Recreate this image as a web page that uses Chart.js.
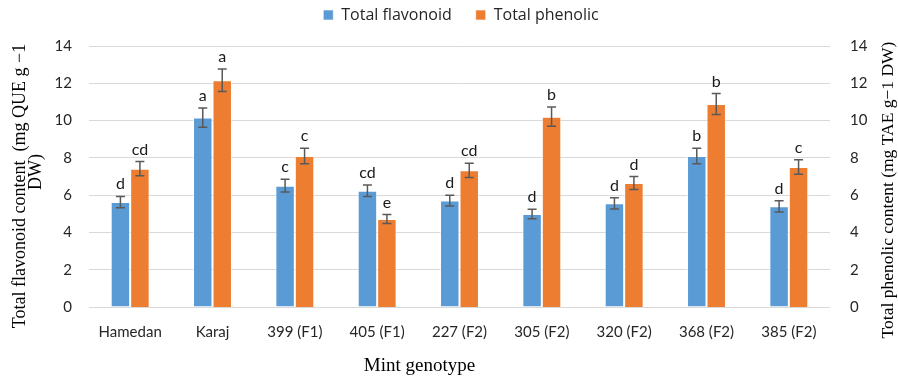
<!DOCTYPE html>
<html>
<head>
<meta charset="utf-8">
<script src="https://cdn.jsdelivr.net/npm/chart.js@4.4.0/dist/chart.umd.min.js"></script>
<style>
  html, body { margin: 0; padding: 0; background: #fff; }
</style>
</head>
<body>
<canvas id="chart" width="898" height="381"></canvas>
<script>
// ==============================
// data
// ==============================
const genotypes = ["Hamedan", "Karaj", "399 (F1)", "405 (F1)", "227 (F2)", "305 (F2)", "320 (F2)", "368 (F2)", "385 (F2)"];

const flavonoid = [5.63, 10.16, 6.51, 6.24, 5.71, 4.99, 5.56, 8.10, 5.40];
const flavonoidErr = [0.30, 0.52, 0.34, 0.31, 0.29, 0.26, 0.30, 0.42, 0.30];
const flavonoidLetters = ["d", "a", "c", "cd", "d", "d", "d", "b", "d"];

const phenolic = [7.42, 12.16, 8.10, 4.72, 7.33, 10.21, 6.65, 10.89, 7.51];
const phenolicErr = [0.38, 0.60, 0.41, 0.24, 0.38, 0.52, 0.35, 0.56, 0.39];
const phenolicLetters = ["cd", "a", "c", "e", "cd", "b", "d", "b", "c"];

const yMin = 0;
const yMax = 14;
const yStep = 2;

const leftTitle = ["Total flavonoid content  (mg QUE g \u22121", "DW)"];
const rightTitle = "Total phenolic content (mg TAE g\u22121 DW)";
const xTitleText = "Mint genotype";

const BLUE = "#5B9BD5";
const ORANGE = "#ED7D31";
const SANS = "Lato, 'Open Sans', sans-serif";
const SERIF = "'Liberation Serif', 'DejaVu Serif', serif";

// ==============================
// error bars + letters
// ==============================
const errorBars = {
    id: "errorBars",
    afterDatasetsDraw(chart) {
        const ctx = chart.ctx;
        chart.data.datasets.forEach((ds, i) => {
            const meta = chart.getDatasetMeta(i);
            const scale = chart.scales[meta.yAxisID];
            meta.data.forEach((bar, j) => {
                const v = ds.data[j];
                const e = ds.errors[j];
                const top = scale.getPixelForValue(v + e);
                const bottom = scale.getPixelForValue(v - e);
                ctx.save();
                ctx.strokeStyle = "#595959";
                ctx.lineWidth = 1.5;
                ctx.beginPath();
                ctx.moveTo(bar.x, top);
                ctx.lineTo(bar.x, bottom);
                ctx.moveTo(bar.x - 4.5, top);
                ctx.lineTo(bar.x + 4.5, top);
                ctx.moveTo(bar.x - 4.5, bottom);
                ctx.lineTo(bar.x + 4.5, bottom);
                ctx.stroke();
                ctx.fillStyle = "#1a1a1a";
                ctx.font = "16px " + SANS;
                ctx.textAlign = "center";
                ctx.textBaseline = "alphabetic";
                ctx.fillText(ds.letters[j], bar.x, top - 7);
                ctx.restore();
            });
        });
    }
};

// axis titles drawn by hand: both y titles read bottom-to-top like the original
const axisTitles = {
    id: "axisTitles",
    afterDraw(chart) {
        const ctx = chart.ctx;
        const a = chart.chartArea;
        ctx.save();
        ctx.fillStyle = "#000";
        ctx.textAlign = "center";
        ctx.textBaseline = "middle";

        ctx.font = "19px " + SERIF;
        ctx.fillText(xTitleText, (a.left + a.right) / 2 - 40, 366);

        ctx.font = "18px " + SERIF;
        ctx.save();
        ctx.translate(20, 186);
        ctx.rotate(-Math.PI / 2);
        ctx.fillText(leftTitle[0], 0, 0);
        ctx.restore();
        ctx.save();
        ctx.translate(36, 172);
        ctx.rotate(-Math.PI / 2);
        ctx.fillText(leftTitle[1], 0, 0);
        ctx.restore();

        ctx.font = "17.5px " + SERIF;
        ctx.translate(888, 190);
        ctx.rotate(-Math.PI / 2);
        ctx.fillText(rightTitle, 0, 0);
        ctx.restore();
    }
};

// fix the legend box height so the plot starts where the original does,
// and nudge the legend a little right of the canvas centre
const legendGap = {
    id: "legendGap",
    afterInit(chart) {
        const lg = chart.legend;
        const fit = lg.fit;
        lg.fit = function () {
            fit.call(this);
            this.height = 63;
        };
    },
    afterLayout(chart) {
        chart.legend.left += 24;
    }
};

// ==============================
// chart
// ==============================
new Chart(document.getElementById("chart"), {
    type: "bar",
    data: {
        labels: genotypes,
        datasets: [
            {
                label: "Total flavonoid",
                data: flavonoid,
                errors: flavonoidErr,
                letters: flavonoidLetters,
                backgroundColor: BLUE,
                borderColor: "rgba(255,255,255,0.6)",
                borderWidth: 1,
                yAxisID: "y"
            },
            {
                label: "Total phenolic",
                data: phenolic,
                errors: phenolicErr,
                letters: phenolicLetters,
                backgroundColor: ORANGE,
                borderColor: "rgba(255,255,255,0.6)",
                borderWidth: 1,
                yAxisID: "y1"
            }
        ]
    },
    options: {
        responsive: false,
        animation: false,
        categoryPercentage: 0.473,
        barPercentage: 1,
        layout: { padding: { top: -17, right: 0, bottom: 0, left: 0 } },
        plugins: {
            legend: {
                position: "top",
                labels: {
                    boxWidth: 10,
                    boxHeight: 10,
                    padding: 24,
                    color: "#262626",
                    font: { family: "'Open Sans', sans-serif", size: 16 }
                }
            },
            tooltip: { enabled: false }
        },
        scales: {
            x: {
                grid: { display: false },
                border: { display: false },
                ticks: { color: "#262626", font: { family: SANS, size: 15 }, padding: 8, maxRotation: 0 },
                afterFit(scale) { scale.height = 74; }
            },
            y: {
                position: "left",
                min: yMin,
                max: yMax,
                grid: { color: "#d9d9d9", lineWidth: 1, drawTicks: false },
                border: { display: false },
                ticks: { stepSize: yStep, color: "#262626", font: { family: SANS, size: 15 }, padding: 17 },
                afterFit(scale) { scale.width = 89; }
            },
            y1: {
                position: "right",
                min: yMin,
                max: yMax,
                grid: { display: false, drawTicks: false },
                border: { display: false },
                ticks: { stepSize: yStep, color: "#262626", font: { family: SANS, size: 15 }, padding: 20 },
                afterFit(scale) { scale.width = 68; }
            }
        }
    },
    plugins: [errorBars, axisTitles, legendGap]
});
</script>
</body>
</html>
